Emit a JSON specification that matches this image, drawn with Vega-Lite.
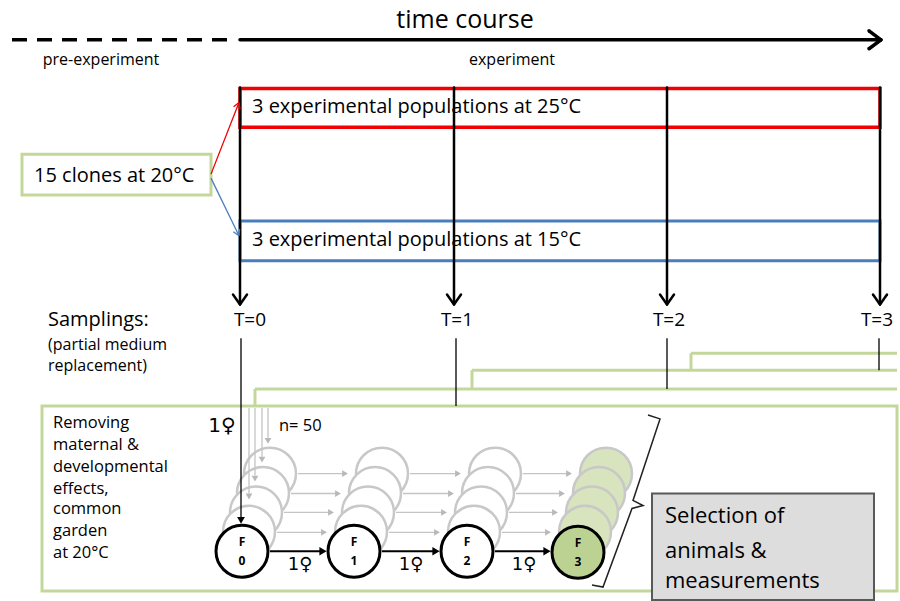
{
  "$schema": "https://vega.github.io/schema/vega-lite/v6.json",
  "width": 900,
  "height": 601,
  "autosize": {"type": "fit", "contains": "padding"},
  "padding": 0,
  "background": "white",
  "config": {"view": {"stroke": null}, "text": {"font": "Open Sans"}},
  "datasets": {
    "rules": [
      {"g": "dash", "x": 12, "y": 40, "x2": 236, "y2": 40},
      {"g": "thick", "x": 240, "y": 40, "x2": 879, "y2": 40},
      {"g": "thick", "x": 881, "y": 40, "x2": 869, "y2": 31},
      {"g": "thick", "x": 881, "y": 40, "x2": 869, "y2": 49},
      {"g": "tarrow", "x": 240, "y": 88, "x2": 240, "y2": 305},
      {"g": "tarrow", "x": 240, "y": 306, "x2": 233, "y2": 296},
      {"g": "tarrow", "x": 240, "y": 306, "x2": 247, "y2": 296},
      {"g": "tarrow", "x": 454, "y": 88, "x2": 454, "y2": 305},
      {"g": "tarrow", "x": 454, "y": 306, "x2": 447, "y2": 296},
      {"g": "tarrow", "x": 454, "y": 306, "x2": 461, "y2": 296},
      {"g": "tarrow", "x": 667, "y": 88, "x2": 667, "y2": 305},
      {"g": "tarrow", "x": 667, "y": 306, "x2": 660, "y2": 296},
      {"g": "tarrow", "x": 667, "y": 306, "x2": 674, "y2": 296},
      {"g": "tarrow", "x": 880, "y": 88, "x2": 880, "y2": 305},
      {"g": "tarrow", "x": 880, "y": 306, "x2": 873, "y2": 296},
      {"g": "tarrow", "x": 880, "y": 306, "x2": 887, "y2": 296},
      {"g": "red", "x": 211, "y": 175, "x2": 239, "y2": 103},
      {"g": "red", "x": 239, "y": 103, "x2": 233.6, "y2": 107.4},
      {"g": "red", "x": 239, "y": 103, "x2": 240.1, "y2": 109.9},
      {"g": "blue", "x": 211, "y": 179, "x2": 239, "y2": 237},
      {"g": "blue", "x": 239, "y": 237, "x2": 239.6, "y2": 230},
      {"g": "blue", "x": 239, "y": 237, "x2": 233.3, "y2": 233},
      {"g": "green", "x": 255, "y": 408, "x2": 255, "y2": 391},
      {"g": "green", "x": 255, "y": 391, "x2": 897, "y2": 391},
      {"g": "green", "x": 472, "y": 391, "x2": 472, "y2": 372},
      {"g": "green", "x": 472, "y": 372, "x2": 897, "y2": 372},
      {"g": "green", "x": 691, "y": 372, "x2": 691, "y2": 355},
      {"g": "green", "x": 691, "y": 355, "x2": 897, "y2": 355},
      {"g": "thin", "x": 241, "y": 340, "x2": 241, "y2": 520},
      {"g": "thin", "x": 456, "y": 340, "x2": 456, "y2": 408},
      {"g": "thin", "x": 667, "y": 340, "x2": 667, "y2": 391},
      {"g": "thin", "x": 879, "y": 340, "x2": 879, "y2": 372},
      {"g": "grey", "x": 249, "y": 410, "x2": 249, "y2": 496},
      {"g": "grey", "x": 255, "y": 410, "x2": 255, "y2": 478},
      {"g": "grey", "x": 262, "y": 410, "x2": 262, "y2": 459},
      {"g": "grey", "x": 268, "y": 410, "x2": 268, "y2": 440},
      {"g": "grey", "x": 277, "y": 535, "x2": 322, "y2": 535},
      {"g": "grey", "x": 389, "y": 535, "x2": 435, "y2": 535},
      {"g": "grey", "x": 502, "y": 535, "x2": 546, "y2": 535},
      {"g": "grey", "x": 284, "y": 515, "x2": 329, "y2": 515},
      {"g": "grey", "x": 396, "y": 515, "x2": 442, "y2": 515},
      {"g": "grey", "x": 509, "y": 515, "x2": 553, "y2": 515},
      {"g": "grey", "x": 291, "y": 496, "x2": 336, "y2": 496},
      {"g": "grey", "x": 403, "y": 496, "x2": 449, "y2": 496},
      {"g": "grey", "x": 516, "y": 496, "x2": 560, "y2": 496},
      {"g": "grey", "x": 298, "y": 476, "x2": 343, "y2": 476},
      {"g": "grey", "x": 410, "y": 476, "x2": 456, "y2": 476},
      {"g": "grey", "x": 523, "y": 476, "x2": 567, "y2": 476},
      {"g": "black", "x": 270, "y": 554, "x2": 321, "y2": 554},
      {"g": "black", "x": 382, "y": 554, "x2": 434, "y2": 554},
      {"g": "black", "x": 495, "y": 554, "x2": 545, "y2": 554}
    ],
    "heads": [
      {"g": "grey_down", "x": 249, "y": 499},
      {"g": "grey_down", "x": 255, "y": 481},
      {"g": "grey_down", "x": 262, "y": 462},
      {"g": "grey_down", "x": 268, "y": 443},
      {"g": "grey_right", "x": 324, "y": 535},
      {"g": "grey_right", "x": 437, "y": 535},
      {"g": "grey_right", "x": 548, "y": 535},
      {"g": "grey_right", "x": 331, "y": 515},
      {"g": "grey_right", "x": 444, "y": 515},
      {"g": "grey_right", "x": 555, "y": 515},
      {"g": "grey_right", "x": 338, "y": 496},
      {"g": "grey_right", "x": 451, "y": 496},
      {"g": "grey_right", "x": 562, "y": 496},
      {"g": "grey_right", "x": 345, "y": 476},
      {"g": "grey_right", "x": 458, "y": 476},
      {"g": "grey_right", "x": 569, "y": 476},
      {"g": "black_down", "x": 241, "y": 523},
      {"g": "black_right", "x": 323, "y": 554},
      {"g": "black_right", "x": 436, "y": 554},
      {"g": "black_right", "x": 547, "y": 554}
    ],
    "rects": [
      {"g": "big", "x": 42, "y": 408, "x2": 897, "y2": 594},
      {"g": "clone", "x": 22, "y": 155, "x2": 211, "y2": 196},
      {"g": "red", "x": 240, "y": 89, "x2": 880, "y2": 128},
      {"g": "blue", "x": 240, "y": 222, "x2": 880, "y2": 262},
      {"g": "sel", "x": 652, "y": 496, "x2": 874, "y2": 603}
    ],
    "circles": [
      {"g": "ghost_w", "x": 270, "y": 476},
      {"g": "ghost_w", "x": 263, "y": 495.5},
      {"g": "ghost_w", "x": 256, "y": 515},
      {"g": "ghost_w", "x": 249, "y": 534.5},
      {"g": "ghost_w", "x": 382, "y": 476},
      {"g": "ghost_w", "x": 375, "y": 495.5},
      {"g": "ghost_w", "x": 368, "y": 515},
      {"g": "ghost_w", "x": 361, "y": 534.5},
      {"g": "ghost_w", "x": 495, "y": 476},
      {"g": "ghost_w", "x": 488, "y": 495.5},
      {"g": "ghost_w", "x": 481, "y": 515},
      {"g": "ghost_w", "x": 474, "y": 534.5},
      {"g": "ghost_g", "x": 606, "y": 476},
      {"g": "ghost_g", "x": 599, "y": 495.5},
      {"g": "ghost_g", "x": 592, "y": 515},
      {"g": "ghost_g", "x": 585, "y": 534.5},
      {"g": "main_w", "x": 242, "y": 554},
      {"g": "main_w", "x": 354, "y": 554},
      {"g": "main_w", "x": 467, "y": 554},
      {"g": "main_g", "x": 578, "y": 555}
    ],
    "bracket": [
      {"o": 1, "x": 648, "y": 417},
      {"o": 2, "x": 660, "y": 421},
      {"o": 3, "x": 633, "y": 503},
      {"o": 4, "x": 643, "y": 508},
      {"o": 5, "x": 632, "y": 511},
      {"o": 6, "x": 603, "y": 590},
      {"o": 7, "x": 592, "y": 588}
    ],
    "texts": [
      {"g": "title", "x": 465, "y": 20, "t": "time course"},
      {"g": "phase", "x": 101, "y": 60, "t": "pre-experiment"},
      {"g": "phase", "x": 512, "y": 60, "t": "experiment"},
      {"g": "pop", "x": 252, "y": 108, "t": "3 experimental populations at 25°C"},
      {"g": "pop", "x": 252, "y": 241, "t": "3 experimental populations at 15°C"},
      {"g": "pop", "x": 34, "y": 177, "t": "15 clones at 20°C"},
      {"g": "pop", "x": 48, "y": 322, "t": "Samplings:"},
      {"g": "tlab", "x": 250, "y": 322, "t": "T=0"},
      {"g": "tlab", "x": 457, "y": 322, "t": "T=1"},
      {"g": "tlab", "x": 669, "y": 322, "t": "T=2"},
      {"g": "tlab", "x": 877, "y": 322, "t": "T=3"},
      {"g": "note", "x": 48, "y": 347, "t": "(partial medium"},
      {"g": "note", "x": 48, "y": 368, "t": "replacement)"},
      {"g": "box", "x": 53, "y": 425, "t": "Removing"},
      {"g": "box", "x": 53, "y": 447, "t": "maternal &"},
      {"g": "box", "x": 53, "y": 469, "t": "developmental"},
      {"g": "box", "x": 53, "y": 491, "t": "effects,"},
      {"g": "box", "x": 53, "y": 512, "t": "common"},
      {"g": "box", "x": 53, "y": 534, "t": "garden"},
      {"g": "box", "x": 53, "y": 556, "t": "at 20°C"},
      {"g": "box", "x": 279, "y": 428, "t": "n= 50"},
      {"g": "fem_big", "x": 222, "y": 428, "t": "1♀"},
      {"g": "fem", "x": 300, "y": 568, "t": "1♀"},
      {"g": "fem", "x": 411, "y": 568, "t": "1♀"},
      {"g": "fem", "x": 524, "y": 568, "t": "1♀"},
      {"g": "circ", "x": 242, "y": 545, "t": "F"},
      {"g": "circ", "x": 242, "y": 564, "t": "0"},
      {"g": "circ", "x": 354, "y": 545, "t": "F"},
      {"g": "circ", "x": 354, "y": 564, "t": "1"},
      {"g": "circ", "x": 467, "y": 545, "t": "F"},
      {"g": "circ", "x": 467, "y": 564, "t": "2"},
      {"g": "circ", "x": 578, "y": 546, "t": "F"},
      {"g": "circ", "x": 578, "y": 565, "t": "3"},
      {"g": "sel", "x": 665, "y": 519, "t": "Selection of"},
      {"g": "sel", "x": 665, "y": 554, "t": "animals &"},
      {"g": "sel", "x": 665, "y": 584, "t": "measurements"}
    ]
  },
  "layer": [
    {
      "data": {"name": "rects"},
      "transform": [{"filter": "datum.g === 'big'"}],
      "mark": {"type": "rect", "fill": "white", "stroke": "#c4d79b", "strokeWidth": 3},
      "encoding": {
        "x": {"field": "x", "type": "quantitative", "scale": {"domain": [0, 900], "nice": false, "zero": false}, "axis": null},
        "y": {"field": "y", "type": "quantitative", "scale": {"domain": [0, 601], "nice": false, "zero": false, "reverse": true}, "axis": null},
        "x2": {"field": "x2"}, "y2": {"field": "y2"}
      }
    },
    {
      "data": {"name": "rects"},
      "transform": [{"filter": "datum.g === 'clone'"}],
      "mark": {"type": "rect", "fill": "white", "stroke": "#c4d79b", "strokeWidth": 3},
      "encoding": {
        "x": {"field": "x", "type": "quantitative", "scale": {"domain": [0, 900], "nice": false, "zero": false}, "axis": null},
        "y": {"field": "y", "type": "quantitative", "scale": {"domain": [0, 601], "nice": false, "zero": false, "reverse": true}, "axis": null},
        "x2": {"field": "x2"}, "y2": {"field": "y2"}
      }
    },
    {
      "data": {"name": "rects"},
      "transform": [{"filter": "datum.g === 'red'"}],
      "mark": {"type": "rect", "fill": null, "fillOpacity": 0, "stroke": "#f00000", "strokeWidth": 3.5},
      "encoding": {
        "x": {"field": "x", "type": "quantitative", "scale": {"domain": [0, 900], "nice": false, "zero": false}, "axis": null},
        "y": {"field": "y", "type": "quantitative", "scale": {"domain": [0, 601], "nice": false, "zero": false, "reverse": true}, "axis": null},
        "x2": {"field": "x2"}, "y2": {"field": "y2"}
      }
    },
    {
      "data": {"name": "rects"},
      "transform": [{"filter": "datum.g === 'blue'"}],
      "mark": {"type": "rect", "fill": null, "fillOpacity": 0, "stroke": "#4a7ebb", "strokeWidth": 3},
      "encoding": {
        "x": {"field": "x", "type": "quantitative", "scale": {"domain": [0, 900], "nice": false, "zero": false}, "axis": null},
        "y": {"field": "y", "type": "quantitative", "scale": {"domain": [0, 601], "nice": false, "zero": false, "reverse": true}, "axis": null},
        "x2": {"field": "x2"}, "y2": {"field": "y2"}
      }
    },
    {
      "data": {"name": "rules"},
      "transform": [{"filter": "datum.g === 'green'"}],
      "mark": {"type": "rule", "color": "#c4d79b", "strokeWidth": 3},
      "encoding": {
        "x": {"field": "x", "type": "quantitative", "scale": {"domain": [0, 900], "nice": false, "zero": false}, "axis": null},
        "y": {"field": "y", "type": "quantitative", "scale": {"domain": [0, 601], "nice": false, "zero": false, "reverse": true}, "axis": null},
        "x2": {"field": "x2"}, "y2": {"field": "y2"}
      }
    },
    {
      "data": {"name": "rules"},
      "transform": [{"filter": "datum.g === 'dash'"}],
      "mark": {"type": "rule", "color": "black", "strokeWidth": 3.5, "strokeDash": [15, 10]},
      "encoding": {
        "x": {"field": "x", "type": "quantitative", "scale": {"domain": [0, 900], "nice": false, "zero": false}, "axis": null},
        "y": {"field": "y", "type": "quantitative", "scale": {"domain": [0, 601], "nice": false, "zero": false, "reverse": true}, "axis": null},
        "x2": {"field": "x2"}, "y2": {"field": "y2"}
      }
    },
    {
      "data": {"name": "rules"},
      "transform": [{"filter": "datum.g === 'thick'"}],
      "mark": {"type": "rule", "color": "black", "strokeWidth": 3.5, "strokeCap": "round"},
      "encoding": {
        "x": {"field": "x", "type": "quantitative", "scale": {"domain": [0, 900], "nice": false, "zero": false}, "axis": null},
        "y": {"field": "y", "type": "quantitative", "scale": {"domain": [0, 601], "nice": false, "zero": false, "reverse": true}, "axis": null},
        "x2": {"field": "x2"}, "y2": {"field": "y2"}
      }
    },
    {
      "data": {"name": "rules"},
      "transform": [{"filter": "datum.g === 'tarrow'"}],
      "mark": {"type": "rule", "color": "black", "strokeWidth": 2.5, "strokeCap": "round"},
      "encoding": {
        "x": {"field": "x", "type": "quantitative", "scale": {"domain": [0, 900], "nice": false, "zero": false}, "axis": null},
        "y": {"field": "y", "type": "quantitative", "scale": {"domain": [0, 601], "nice": false, "zero": false, "reverse": true}, "axis": null},
        "x2": {"field": "x2"}, "y2": {"field": "y2"}
      }
    },
    {
      "data": {"name": "rules"},
      "transform": [{"filter": "datum.g === 'red'"}],
      "mark": {"type": "rule", "color": "#f00000", "strokeWidth": 1.3},
      "encoding": {
        "x": {"field": "x", "type": "quantitative", "scale": {"domain": [0, 900], "nice": false, "zero": false}, "axis": null},
        "y": {"field": "y", "type": "quantitative", "scale": {"domain": [0, 601], "nice": false, "zero": false, "reverse": true}, "axis": null},
        "x2": {"field": "x2"}, "y2": {"field": "y2"}
      }
    },
    {
      "data": {"name": "rules"},
      "transform": [{"filter": "datum.g === 'blue'"}],
      "mark": {"type": "rule", "color": "#4a7ebb", "strokeWidth": 1.3},
      "encoding": {
        "x": {"field": "x", "type": "quantitative", "scale": {"domain": [0, 900], "nice": false, "zero": false}, "axis": null},
        "y": {"field": "y", "type": "quantitative", "scale": {"domain": [0, 601], "nice": false, "zero": false, "reverse": true}, "axis": null},
        "x2": {"field": "x2"}, "y2": {"field": "y2"}
      }
    },
    {
      "data": {"name": "circles"},
      "transform": [{"filter": "datum.g === 'ghost_w'"}],
      "mark": {"type": "point", "shape": "circle", "size": 2700, "filled": true, "fill": "white", "stroke": "#c8c8c8", "strokeWidth": 2.5, "opacity": 1},
      "encoding": {
        "x": {"field": "x", "type": "quantitative", "scale": {"domain": [0, 900], "nice": false, "zero": false}, "axis": null},
        "y": {"field": "y", "type": "quantitative", "scale": {"domain": [0, 601], "nice": false, "zero": false, "reverse": true}, "axis": null}
      }
    },
    {
      "data": {"name": "circles"},
      "transform": [{"filter": "datum.g === 'ghost_g'"}],
      "mark": {"type": "point", "shape": "circle", "size": 2700, "filled": true, "fill": "#d7e4bd", "stroke": "#c8c8c8", "strokeWidth": 2.5, "opacity": 1},
      "encoding": {
        "x": {"field": "x", "type": "quantitative", "scale": {"domain": [0, 900], "nice": false, "zero": false}, "axis": null},
        "y": {"field": "y", "type": "quantitative", "scale": {"domain": [0, 601], "nice": false, "zero": false, "reverse": true}, "axis": null}
      }
    },
    {
      "data": {"name": "rules"},
      "transform": [{"filter": "datum.g === 'thin'"}],
      "mark": {"type": "rule", "color": "black", "strokeWidth": 1.3},
      "encoding": {
        "x": {"field": "x", "type": "quantitative", "scale": {"domain": [0, 900], "nice": false, "zero": false}, "axis": null},
        "y": {"field": "y", "type": "quantitative", "scale": {"domain": [0, 601], "nice": false, "zero": false, "reverse": true}, "axis": null},
        "x2": {"field": "x2"}, "y2": {"field": "y2"}
      }
    },
    {
      "data": {"name": "rules"},
      "transform": [{"filter": "datum.g === 'grey'"}],
      "mark": {"type": "rule", "color": "#c4c4c4", "strokeWidth": 1.3},
      "encoding": {
        "x": {"field": "x", "type": "quantitative", "scale": {"domain": [0, 900], "nice": false, "zero": false}, "axis": null},
        "y": {"field": "y", "type": "quantitative", "scale": {"domain": [0, 601], "nice": false, "zero": false, "reverse": true}, "axis": null},
        "x2": {"field": "x2"}, "y2": {"field": "y2"}
      }
    },
    {
      "data": {"name": "heads"},
      "transform": [{"filter": "datum.g === 'grey_down'"}],
      "mark": {"type": "point", "shape": "triangle-down", "size": 45, "filled": true, "color": "#b8b8b8", "opacity": 1},
      "encoding": {
        "x": {"field": "x", "type": "quantitative", "scale": {"domain": [0, 900], "nice": false, "zero": false}, "axis": null},
        "y": {"field": "y", "type": "quantitative", "scale": {"domain": [0, 601], "nice": false, "zero": false, "reverse": true}, "axis": null}
      }
    },
    {
      "data": {"name": "heads"},
      "transform": [{"filter": "datum.g === 'grey_right'"}],
      "mark": {"type": "point", "shape": "triangle-right", "size": 45, "filled": true, "color": "#b8b8b8", "opacity": 1},
      "encoding": {
        "x": {"field": "x", "type": "quantitative", "scale": {"domain": [0, 900], "nice": false, "zero": false}, "axis": null},
        "y": {"field": "y", "type": "quantitative", "scale": {"domain": [0, 601], "nice": false, "zero": false, "reverse": true}, "axis": null}
      }
    },
    {
      "data": {"name": "heads"},
      "transform": [{"filter": "datum.g === 'black_down'"}],
      "mark": {"type": "point", "shape": "triangle-down", "size": 60, "filled": true, "color": "black", "opacity": 1},
      "encoding": {
        "x": {"field": "x", "type": "quantitative", "scale": {"domain": [0, 900], "nice": false, "zero": false}, "axis": null},
        "y": {"field": "y", "type": "quantitative", "scale": {"domain": [0, 601], "nice": false, "zero": false, "reverse": true}, "axis": null}
      }
    },
    {
      "data": {"name": "circles"},
      "transform": [{"filter": "datum.g === 'main_w'"}],
      "mark": {"type": "point", "shape": "circle", "size": 2700, "filled": true, "fill": "white", "stroke": "black", "strokeWidth": 3, "opacity": 1},
      "encoding": {
        "x": {"field": "x", "type": "quantitative", "scale": {"domain": [0, 900], "nice": false, "zero": false}, "axis": null},
        "y": {"field": "y", "type": "quantitative", "scale": {"domain": [0, 601], "nice": false, "zero": false, "reverse": true}, "axis": null}
      }
    },
    {
      "data": {"name": "circles"},
      "transform": [{"filter": "datum.g === 'main_g'"}],
      "mark": {"type": "point", "shape": "circle", "size": 2700, "filled": true, "fill": "#bcd293", "stroke": "black", "strokeWidth": 3, "opacity": 1},
      "encoding": {
        "x": {"field": "x", "type": "quantitative", "scale": {"domain": [0, 900], "nice": false, "zero": false}, "axis": null},
        "y": {"field": "y", "type": "quantitative", "scale": {"domain": [0, 601], "nice": false, "zero": false, "reverse": true}, "axis": null}
      }
    },
    {
      "data": {"name": "rules"},
      "transform": [{"filter": "datum.g === 'black'"}],
      "mark": {"type": "rule", "color": "black", "strokeWidth": 2},
      "encoding": {
        "x": {"field": "x", "type": "quantitative", "scale": {"domain": [0, 900], "nice": false, "zero": false}, "axis": null},
        "y": {"field": "y", "type": "quantitative", "scale": {"domain": [0, 601], "nice": false, "zero": false, "reverse": true}, "axis": null},
        "x2": {"field": "x2"}, "y2": {"field": "y2"}
      }
    },
    {
      "data": {"name": "heads"},
      "transform": [{"filter": "datum.g === 'black_right'"}],
      "mark": {"type": "point", "shape": "triangle-right", "size": 70, "filled": true, "color": "black", "opacity": 1},
      "encoding": {
        "x": {"field": "x", "type": "quantitative", "scale": {"domain": [0, 900], "nice": false, "zero": false}, "axis": null},
        "y": {"field": "y", "type": "quantitative", "scale": {"domain": [0, 601], "nice": false, "zero": false, "reverse": true}, "axis": null}
      }
    },
    {
      "data": {"name": "bracket"},
      "mark": {"type": "line", "color": "#222222", "strokeWidth": 1.5},
      "encoding": {
        "x": {"field": "x", "type": "quantitative", "scale": {"domain": [0, 900], "nice": false, "zero": false}, "axis": null},
        "y": {"field": "y", "type": "quantitative", "scale": {"domain": [0, 601], "nice": false, "zero": false, "reverse": true}, "axis": null},
        "order": {"field": "o", "type": "quantitative"}
      }
    },
    {
      "data": {"name": "rects"},
      "transform": [{"filter": "datum.g === 'sel'"}],
      "mark": {"type": "rect", "fill": "#dddddd", "stroke": "#595959", "strokeWidth": 2},
      "encoding": {
        "x": {"field": "x", "type": "quantitative", "scale": {"domain": [0, 900], "nice": false, "zero": false}, "axis": null},
        "y": {"field": "y", "type": "quantitative", "scale": {"domain": [0, 601], "nice": false, "zero": false, "reverse": true}, "axis": null},
        "x2": {"field": "x2"}, "y2": {"field": "y2"}
      }
    },
    {
      "data": {"name": "texts"},
      "transform": [{"filter": "datum.g === 'title'"}],
      "mark": {"type": "text", "fontSize": 25, "align": "center", "baseline": "middle", "color": "black"},
      "encoding": {
        "x": {"field": "x", "type": "quantitative", "scale": {"domain": [0, 900], "nice": false, "zero": false}, "axis": null},
        "y": {"field": "y", "type": "quantitative", "scale": {"domain": [0, 601], "nice": false, "zero": false, "reverse": true}, "axis": null},
        "text": {"field": "t"}
      }
    },
    {
      "data": {"name": "texts"},
      "transform": [{"filter": "datum.g === 'phase'"}],
      "mark": {"type": "text", "fontSize": 16, "align": "center", "baseline": "middle", "color": "black"},
      "encoding": {
        "x": {"field": "x", "type": "quantitative", "scale": {"domain": [0, 900], "nice": false, "zero": false}, "axis": null},
        "y": {"field": "y", "type": "quantitative", "scale": {"domain": [0, 601], "nice": false, "zero": false, "reverse": true}, "axis": null},
        "text": {"field": "t"}
      }
    },
    {
      "data": {"name": "texts"},
      "transform": [{"filter": "datum.g === 'pop'"}],
      "mark": {"type": "text", "fontSize": 20, "align": "left", "baseline": "middle", "color": "black"},
      "encoding": {
        "x": {"field": "x", "type": "quantitative", "scale": {"domain": [0, 900], "nice": false, "zero": false}, "axis": null},
        "y": {"field": "y", "type": "quantitative", "scale": {"domain": [0, 601], "nice": false, "zero": false, "reverse": true}, "axis": null},
        "text": {"field": "t"}
      }
    },
    {
      "data": {"name": "texts"},
      "transform": [{"filter": "datum.g === 'tlab'"}],
      "mark": {"type": "text", "fontSize": 19, "align": "center", "baseline": "middle", "color": "black"},
      "encoding": {
        "x": {"field": "x", "type": "quantitative", "scale": {"domain": [0, 900], "nice": false, "zero": false}, "axis": null},
        "y": {"field": "y", "type": "quantitative", "scale": {"domain": [0, 601], "nice": false, "zero": false, "reverse": true}, "axis": null},
        "text": {"field": "t"}
      }
    },
    {
      "data": {"name": "texts"},
      "transform": [{"filter": "datum.g === 'note'"}],
      "mark": {"type": "text", "fontSize": 16, "align": "left", "baseline": "middle", "color": "black"},
      "encoding": {
        "x": {"field": "x", "type": "quantitative", "scale": {"domain": [0, 900], "nice": false, "zero": false}, "axis": null},
        "y": {"field": "y", "type": "quantitative", "scale": {"domain": [0, 601], "nice": false, "zero": false, "reverse": true}, "axis": null},
        "text": {"field": "t"}
      }
    },
    {
      "data": {"name": "texts"},
      "transform": [{"filter": "datum.g === 'box'"}],
      "mark": {"type": "text", "fontSize": 16.5, "align": "left", "baseline": "middle", "color": "black"},
      "encoding": {
        "x": {"field": "x", "type": "quantitative", "scale": {"domain": [0, 900], "nice": false, "zero": false}, "axis": null},
        "y": {"field": "y", "type": "quantitative", "scale": {"domain": [0, 601], "nice": false, "zero": false, "reverse": true}, "axis": null},
        "text": {"field": "t"}
      }
    },
    {
      "data": {"name": "texts"},
      "transform": [{"filter": "datum.g === 'fem_big'"}],
      "mark": {"type": "text", "font": "DejaVu Sans", "fontSize": 20, "align": "center", "baseline": "middle", "color": "black"},
      "encoding": {
        "x": {"field": "x", "type": "quantitative", "scale": {"domain": [0, 900], "nice": false, "zero": false}, "axis": null},
        "y": {"field": "y", "type": "quantitative", "scale": {"domain": [0, 601], "nice": false, "zero": false, "reverse": true}, "axis": null},
        "text": {"field": "t"}
      }
    },
    {
      "data": {"name": "texts"},
      "transform": [{"filter": "datum.g === 'fem'"}],
      "mark": {"type": "text", "font": "DejaVu Sans", "fontSize": 18, "align": "center", "baseline": "middle", "color": "black"},
      "encoding": {
        "x": {"field": "x", "type": "quantitative", "scale": {"domain": [0, 900], "nice": false, "zero": false}, "axis": null},
        "y": {"field": "y", "type": "quantitative", "scale": {"domain": [0, 601], "nice": false, "zero": false, "reverse": true}, "axis": null},
        "text": {"field": "t"}
      }
    },
    {
      "data": {"name": "texts"},
      "transform": [{"filter": "datum.g === 'circ'"}],
      "mark": {"type": "text", "fontSize": 12, "fontWeight": "bold", "align": "center", "baseline": "middle", "color": "black"},
      "encoding": {
        "x": {"field": "x", "type": "quantitative", "scale": {"domain": [0, 900], "nice": false, "zero": false}, "axis": null},
        "y": {"field": "y", "type": "quantitative", "scale": {"domain": [0, 601], "nice": false, "zero": false, "reverse": true}, "axis": null},
        "text": {"field": "t"}
      }
    },
    {
      "data": {"name": "texts"},
      "transform": [{"filter": "datum.g === 'sel'"}],
      "mark": {"type": "text", "fontSize": 22, "align": "left", "baseline": "middle", "color": "black"},
      "encoding": {
        "x": {"field": "x", "type": "quantitative", "scale": {"domain": [0, 900], "nice": false, "zero": false}, "axis": null},
        "y": {"field": "y", "type": "quantitative", "scale": {"domain": [0, 601], "nice": false, "zero": false, "reverse": true}, "axis": null},
        "text": {"field": "t"}
      }
    }
  ]
}
